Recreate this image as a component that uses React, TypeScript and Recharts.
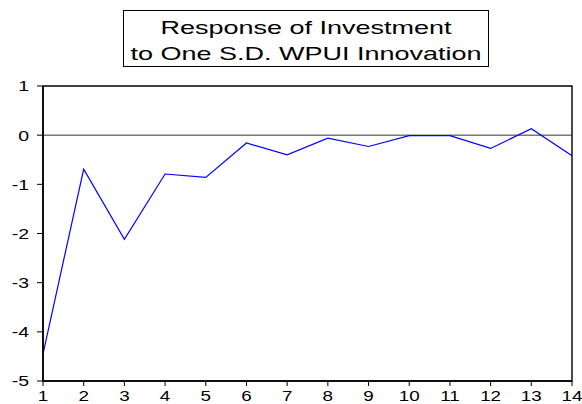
import React from 'react';
import { LineChart, Line, XAxis, YAxis, ReferenceLine, ReferenceArea } from 'recharts';

const periods = [1, 2, 3, 4, 5, 6, 7, 8, 9, 10, 11, 12, 13, 14];
const responses = [-4.45, -0.69, -2.12, -0.79, -0.86, -0.16, -0.40, -0.06, -0.23, -0.01, -0.01, -0.27, 0.13, -0.42];
const xTicks = [1, 2, 3, 4, 5, 6, 7, 8, 9, 10, 11, 12, 13, 14];
const yTicks = [-5, -4, -3, -2, -1, 0, 1];
const titleLines = ['Response of Investment', 'to One S.D. WPUI Innovation'];

const data = periods.map((p, i) => ({ period: p, value: responses[i] }));

const FONT = '"Liberation Sans", Arial, sans-serif';

const YTick = (props: any) => {
  const { x, y, payload } = props;
  return (
    <text
      transform={`translate(${x},${y}) scale(1.3,1)`}
      textAnchor="end"
      dy="0.36em"
      fontSize={15}
      fontFamily={FONT}
      fill="#000"
    >
      {payload.value}
    </text>
  );
};

const XTick = (props: any) => {
  const { x, y, payload } = props;
  return (
    <text
      transform={`translate(${x},${y}) scale(1.3,1)`}
      textAnchor="middle"
      dy="0.71em"
      fontSize={14.5}
      fontFamily={FONT}
      fill="#000"
    >
      {payload.value}
    </text>
  );
};

export default function App() {
  return (
    <div style={{ position: 'absolute', left: 0, top: 0, width: 582, height: 404, background: '#fff' }}>
      <LineChart
        width={582}
        height={404}
        data={data}
        margin={{ top: 86, right: 10, bottom: 0, left: 0 }}
      >
        <XAxis
          dataKey="period"
          type="number"
          domain={[1, 14]}
          ticks={xTicks}
          interval={0}
          height={23}
          tickSize={5}
          tickMargin={5}
          tick={<XTick />}
          axisLine={{ stroke: '#000', strokeWidth: 1.6 }}
          tickLine={{ stroke: '#000', strokeWidth: 1 }}
          allowDataOverflow
        />
        <YAxis
          type="number"
          domain={[-5, 1]}
          ticks={yTicks}
          interval={0}
          width={43}
          tickSize={6}
          tickMargin={8}
          tick={<YTick />}
          axisLine={{ stroke: '#000', strokeWidth: 1.6 }}
          tickLine={{ stroke: '#000', strokeWidth: 1 }}
          allowDataOverflow
        />
        <ReferenceArea
          x1={1}
          x2={14}
          y1={-5}
          y2={1}
          fill="none"
          fillOpacity={0}
          stroke="#000"
          strokeWidth={1.4}
          ifOverflow="visible"
        />
        <ReferenceLine y={0} stroke="#333" strokeWidth={1} />
        <Line
          type="linear"
          dataKey="value"
          stroke="#0000ff"
          strokeWidth={1.2}
          dot={false}
          isAnimationActive={false}
        />
      </LineChart>
      <svg
        width={582}
        height={80}
        style={{ position: 'absolute', left: 0, top: 0, pointerEvents: 'none' }}
      >
        <rect x={123.5} y={10.5} width={365} height={56} fill="#fff" stroke="#000" strokeWidth={1} />
        {titleLines.map((line, i) => (
          <text
            key={i}
            transform={`translate(306,${34.3 + i * 25.7}) scale(1.5,1)`}
            textAnchor="middle"
            fontSize={18}
            fontFamily={FONT}
            fill="#000"
          >
            {line}
          </text>
        ))}
      </svg>
    </div>
  );
}
